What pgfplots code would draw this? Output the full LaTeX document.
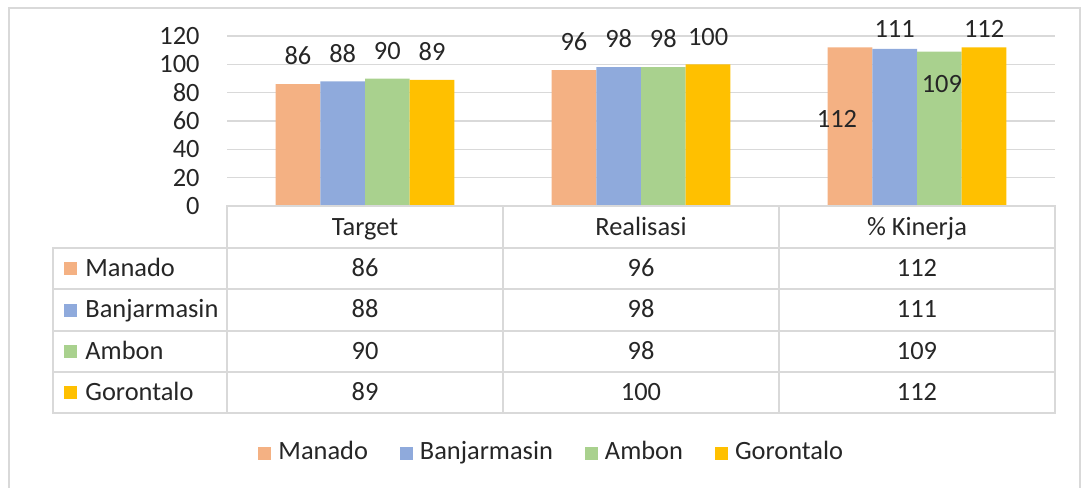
\documentclass[border=0pt]{standalone}
\usepackage{fontspec}
\setmainfont{Carlito}
\usepackage{pgfplots}
\pgfplotsset{compat=1.18}
\usepackage{pgfplotstable}

\definecolor{cManado}{HTML}{F4B183}
\definecolor{cBanjar}{HTML}{8FAADC}
\definecolor{cAmbon}{HTML}{A9D18E}
\definecolor{cGoron}{HTML}{FFC000}
\definecolor{gridc}{HTML}{D9D9D9}
\definecolor{txt}{HTML}{262626}

\newcommand{\fs}{\fontsize{13.2}{15.8}\selectfont}

% x: 0 = Target, 1 = Realisasi, 2 = % Kinerja
% dx, dy: label centre offset from bar top, in px
\pgfplotstableread{
x y dx dy
0 86 0 27
1 96 0 27
2 112 -13 -72.7
}\manado
\pgfplotstableread{
x y dx dy
0 88 0 27
1 98 0 27
2 111 0 18.7
}\banjar
\pgfplotstableread{
x y dx dy
0 90 0 27
1 98 0 27
2 109 2.5 -33.4
}\ambon
\pgfplotstableread{
x y dx dy
0 89 0 27
1 100 0 27
2 112 0 17.3
}\goron

\begin{document}
\begin{tikzpicture}[x=0.5pt,y=-0.5pt]
\useasboundingbox (0,0) rectangle (1081,487);
\draw[gridc, line width=1pt] (8.5,495) -- (8.5,7.5) -- (1079.5,7.5) -- (1079.5,495);

% plot area: x 227..1055 px, y 36..206 px (1 px = 0.5pt)
\begin{axis}[
    at={(113.5pt,-103pt)}, anchor=south west,
    scale only axis, width=414pt, height=85pt,
    xmin=-0.5, xmax=2.5, ymin=0, ymax=120,
    xtick=\empty, ytick={0,20,...,120},
    ymajorgrids, grid style={line width=0.8pt, gridc},
    axis line style={draw=none}, major tick length=0pt,
    yticklabel style={anchor=east, inner sep=0pt, xshift=-13.5pt, font=\fs, text=txt},
    /pgf/number format/assume math mode=true,
    ybar, bar width=0.162,
    clip=false,
    nodes near coords, nodes near coords align=vertical,
    visualization depends on={\thisrow{dx} \as \dx},
    visualization depends on={\thisrow{dy} \as \dy},
    every node near coord/.append style={inner sep=0pt, font=\fs, text=txt,
        xshift=\dx*0.5pt, yshift=(\dy-8.3)*0.5pt},
    legend image code/.code={\fill[#1,draw=none] (0pt,0pt) rectangle (6.5pt,6.5pt);},
    legend style={at={(0.391,-1.447)}, anchor=center, draw=none, fill=none,
        inner sep=0pt, font=\fs, text=txt, legend columns=4,
        cells={anchor=base west}, nodes={inner sep=0pt},
        /tikz/every odd column/.append style={column sep=3.5pt},
        /tikz/every even column/.append style={column sep=16pt}},
]
\addplot[fill=cManado, draw=none, bar shift=-0.243] table[x=x,y=y] {\manado};
\addplot[fill=cBanjar, draw=none, bar shift=-0.081] table[x=x,y=y] {\banjar};
\addplot[fill=cAmbon, draw=none, bar shift=0.081] table[x=x,y=y] {\ambon};
\addplot[fill=cGoron, draw=none, bar shift=0.243] table[x=x,y=y] {\goron};
\legend{Manado, Banjarmasin, Ambon, Gorontalo}
\end{axis}

% data table under the chart
\begin{scope}[gridc, line width=1pt]
\draw (227,206) rectangle (1055,413);
\draw (53,248) rectangle (227,413);
\foreach \yy in {289.25,330.5,371.75} \draw (53,\yy) -- (1055,\yy);
\draw (227,248) -- (1055,248);
\foreach \xx in {503,779} \draw (\xx,206) -- (\xx,413);
\end{scope}

\begin{scope}[every node/.style={font=\fs, text=txt, inner sep=0pt}]
\node[anchor=base] at (365,235) {Target};
\node[anchor=base] at (641,235) {Realisasi};
\node[anchor=base] at (917,235) {\% Kinerja};

\fill[cManado] (64,262) rectangle (77,275);
\fill[cBanjar] (64,303.5) rectangle (77,316.5);
\fill[cAmbon]  (64,344.5) rectangle (77,357.5);
\fill[cGoron]  (64,386) rectangle (77,399);
\node[anchor=base west] at (85,276.6) {Manado};
\node[anchor=base west] at (85,317.9) {Banjarmasin};
\node[anchor=base west] at (85,359.1) {Ambon};
\node[anchor=base west] at (85,400.4) {Gorontalo};

\node[anchor=base] at (365,276.6) {86};
\node[anchor=base] at (365,317.9) {88};
\node[anchor=base] at (365,359.1) {90};
\node[anchor=base] at (365,400.4) {89};
\node[anchor=base] at (641,276.6) {96};
\node[anchor=base] at (641,317.9) {98};
\node[anchor=base] at (641,359.1) {98};
\node[anchor=base] at (641,400.4) {100};
\node[anchor=base] at (917,276.6) {112};
\node[anchor=base] at (917,317.9) {111};
\node[anchor=base] at (917,359.1) {109};
\node[anchor=base] at (917,400.4) {112};
\end{scope}
\end{tikzpicture}
\end{document}
